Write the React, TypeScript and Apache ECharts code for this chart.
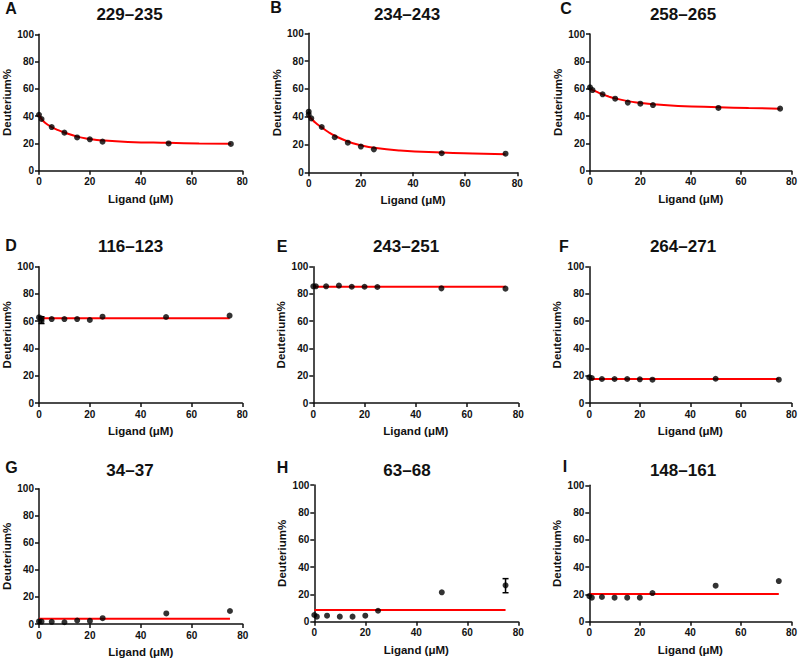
import React, { useEffect, useRef } from "react";
import * as echarts from "echarts";

// ---------- data ----------
const panelLetters = ["A", "B", "C", "D", "E", "F", "G", "H", "I"];
const panelTitles = ["229–235", "234–243", "258–265", "116–123", "243–251", "264–271", "34–37", "63–68", "148–161"];

const xAB = [0, 1, 5, 10, 15, 20, 25, 51, 75.5];
const xB = [0, 0, 1, 5, 10, 15, 20, 25, 51, 75.5];
const xD = [0, 1, 1, 5, 10, 15, 20, 25, 50, 75];
const xStd = [0, 1, 5, 10, 15, 20, 25, 50, 75];

const yA = [41.0, 37.9, 32.0, 27.9, 24.4, 23.0, 21.3, 20.0, 19.6];
const yB = [43.6, 41.5, 38.8, 32.6, 25.2, 21.3, 18.5, 16.5, 13.7, 13.4];
const yC = [61.0, 59.0, 55.9, 52.7, 49.8, 49.0, 48.0, 45.9, 45.4];
const yD = [62.8, 61.9, 60.2, 61.6, 61.6, 61.6, 60.9, 63.3, 63.1, 64.1];
const yE = [85.6, 85.6, 85.6, 86.1, 85.3, 85.3, 85.1, 84.1, 83.9];
const yF = [18.8, 18.3, 17.6, 17.6, 17.6, 17.4, 17.1, 17.8, 17.1];
const yG = [1.9, 1.8, 1.6, 1.3, 2.6, 2.3, 4.3, 7.8, 9.6];
const yH = [4.9, 3.7, 4.4, 3.7, 3.7, 4.4, 8.0, 21.5, 26.6];
const yI = [18.8, 17.6, 18.1, 17.6, 17.6, 17.6, 21.0, 26.4, 29.8];

// fitted curves
const curveX = [0, 1, 2.5, 5, 7.5, 10, 15, 20, 25, 35, 51, 63, 75.5];
const curveA = [41.0, 38.0, 35.0, 32.0, 29.8, 28.0, 25.0, 23.3, 22.2, 21.1, 20.4, 20.0, 19.7];
const curveB = [40.5, 38.6, 35.8, 32.3, 29.0, 26.3, 22.2, 19.5, 17.6, 15.7, 14.2, 13.5, 13.0];
const curveC = [60.3, 59.0, 57.8, 55.8, 54.2, 52.9, 50.9, 49.6, 48.6, 47.4, 46.4, 45.8, 45.4];

// horizontal fits (x from 0 to 75)
const flatX = [0, 75];
const flatD = 62.1;
const flatE = 85.2;
const flatF = 17.6;
const flatG = 3.8;
const flatH = 8.5;
const flatI = 20.3;

// error bars: [x, low, high]
const errD = [[1, 58.3, 63.3]];
const errH = [[75, 21.2, 31.5]];

// ---------- layout ----------
const grids = [
  { left: 37.7, top: 34.3, width: 204.6, height: 136.4 },
  { left: 308.7, top: 33.3, width: 208.6, height: 139 },
  { left: 590, top: 34, width: 205, height: 136.7 },
  { left: 37.7, top: 266.7, width: 204.6, height: 136.3 },
  { left: 313.3, top: 266.7, width: 205, height: 136.3 },
  { left: 589.3, top: 266.7, width: 205, height: 136.3 },
  { left: 39, top: 488.7, width: 203.7, height: 135.3 },
  { left: 314.3, top: 485, width: 204, height: 136.7 },
  { left: 589.3, top: 485.3, width: 204, height: 136.4 },
];
const titlePos = [
  [129.5, 14], [407, 14], [683, 14],
  [130.5, 246], [406, 246.5], [683, 246.5],
  [130, 470], [407, 470], [683, 470.5],
];
const letterPos = [
  [11, 8], [276, 7], [566, 8],
  [11, 245], [282, 246.5], [564, 246.5],
  [11.5, 467], [282.5, 467], [565, 466.7],
];

const FONT = '"Liberation Sans", Arial, sans-serif';

export default function App() {
  const ref = useRef<HTMLDivElement>(null);
  useEffect(() => {
    if (!ref.current) return;
    const chart = echarts.init(ref.current, undefined, { renderer: "svg" });

    const pts: number[][][] = [
      xAB.map((x, i) => [x, yA[i]]),
      xB.map((x, i) => [x, yB[i]]),
      xAB.map((x, i) => [x, yC[i]]),
      xD.map((x, i) => [x, yD[i]]),
      xStd.map((x, i) => [x, yE[i]]),
      xStd.map((x, i) => [x, yF[i]]),
      xStd.map((x, i) => [x, yG[i]]),
      xStd.map((x, i) => [x, yH[i]]),
      xStd.map((x, i) => [x, yI[i]]),
    ];
    const fits: number[][][] = [
      curveX.map((x, i) => [x, curveA[i]]),
      curveX.map((x, i) => [x, curveB[i]]),
      curveX.map((x, i) => [x, curveC[i]]),
      flatX.map((x) => [x, flatD]),
      flatX.map((x) => [x, flatE]),
      flatX.map((x) => [x, flatF]),
      flatX.map((x) => [x, flatG]),
      flatX.map((x) => [x, flatH]),
      flatX.map((x) => [x, flatI]),
    ];
    const errs: Record<number, number[][]> = { 3: errD, 7: errH };

    const axisCommon = {
      axisLine: { lineStyle: { color: "#111", width: 1.5 } },
      axisTick: { show: true, inside: false, length: 4, lineStyle: { color: "#111", width: 1.5 } },
      splitLine: { show: false },
      nameTextStyle: { fontFamily: FONT, fontWeight: "bold", fontSize: 11.5, color: "#111" },
    };

    const xAxis = grids.map((_, i) => ({
      ...axisCommon,
      type: "value",
      gridIndex: i,
      min: 0,
      max: 80,
      interval: 20,
      name: "Ligand (μM)",
      nameLocation: "middle",
      nameGap: 22,
      axisLabel: { fontFamily: FONT, fontWeight: "bold", fontSize: 10, color: "#111", margin: 6 },
    }));
    const yAxis = grids.map((_, i) => ({
      ...axisCommon,
      type: "value",
      gridIndex: i,
      min: 0,
      max: 100,
      interval: 20,
      name: "Deuterium%",
      nameLocation: "middle",
      nameGap: 26,
      axisLabel: { fontFamily: FONT, fontWeight: "bold", fontSize: 10, color: "#111", margin: 5 },
    }));

    const series: any[] = [];
    grids.forEach((_, i) => {
      series.push({
        type: "line",
        xAxisIndex: i,
        yAxisIndex: i,
        data: fits[i],
        smooth: i < 3,
        showSymbol: false,
        symbol: "none",
        lineStyle: { color: "#ff0000", width: 2 },
        z: 2,
      });
      if (errs[i]) {
        series.push({
          type: "custom",
          xAxisIndex: i,
          yAxisIndex: i,
          data: errs[i],
          encode: { x: 0, y: [1, 2] },
          z: 3,
          renderItem: (_p: any, api: any) => {
            const x = api.value(0);
            const a = api.coord([x, api.value(1)]);
            const b = api.coord([x, api.value(2)]);
            const w = 3;
            const st = { stroke: "#000", lineWidth: 1.5 };
            return {
              type: "group",
              children: [
                { type: "line", shape: { x1: a[0], y1: a[1], x2: b[0], y2: b[1] }, style: st },
                { type: "line", shape: { x1: a[0] - w, y1: a[1], x2: a[0] + w, y2: a[1] }, style: st },
                { type: "line", shape: { x1: b[0] - w, y1: b[1], x2: b[0] + w, y2: b[1] }, style: st },
              ],
            };
          },
        });
      }
      series.push({
        type: "scatter",
        xAxisIndex: i,
        yAxisIndex: i,
        data: pts[i],
        symbol: "circle",
        symbolSize: 6,
        itemStyle: { color: "#000" },
        z: 4,
      });
    });

    const graphic: any[] = [];
    panelTitles.forEach((t, i) => {
      graphic.push({
        type: "text",
        x: titlePos[i][0],
        y: titlePos[i][1],
        style: {
          text: t,
          fill: "#111",
          fontFamily: FONT,
          fontWeight: "bold",
          fontSize: 17,
          align: "center",
          verticalAlign: "middle",
        },
      });
      graphic.push({
        type: "text",
        x: letterPos[i][0],
        y: letterPos[i][1],
        style: {
          text: panelLetters[i],
          fill: "#111",
          fontFamily: FONT,
          fontWeight: "bold",
          fontSize: 16,
          align: "center",
          verticalAlign: "middle",
        },
      });
    });

    chart.setOption({
      animation: false,
      backgroundColor: "#fff",
      grid: grids.map((g) => ({ ...g, containLabel: false })),
      xAxis,
      yAxis,
      series,
      graphic,
    });
    return () => chart.dispose();
  }, []);

  return (
    <div
      ref={ref}
      style={{ position: "fixed", left: 0, top: 0, width: 800, height: 659, background: "#fff" }}
    />
  );
}
